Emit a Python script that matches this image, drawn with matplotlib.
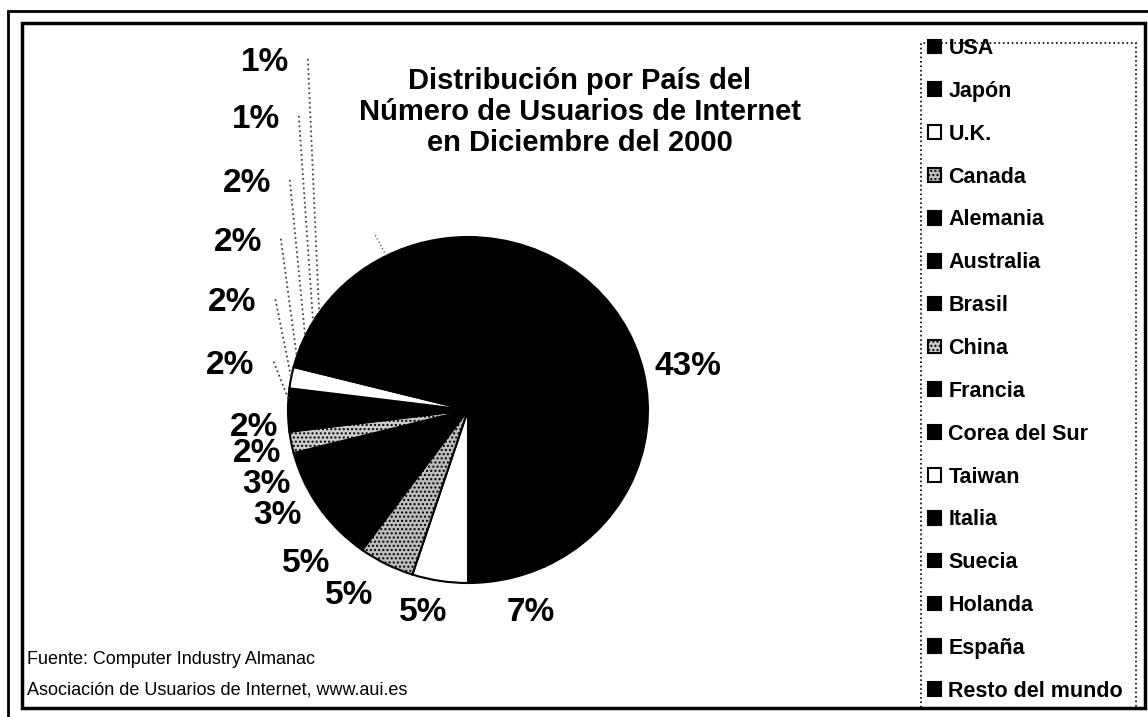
import numpy as np
import matplotlib
matplotlib.use("Agg")
import matplotlib.pyplot as plt
from matplotlib.patches import Rectangle

plt.rcParams['font.family'] = ['Liberation Sans', 'DejaVu Sans']
plt.rcParams['hatch.linewidth'] = 1.0

# data (Resto del mundo = remainder, its label is hidden)
countries = ['USA', 'Japón', 'U.K.', 'Canada', 'Alemania', 'Australia', 'Brasil',
             'China', 'Francia', 'Corea del Sur', 'Taiwan', 'Italia', 'Suecia',
             'Holanda', 'España', 'Resto del mundo']
shares = [43, 7, 5, 5, 5, 3, 3, 2, 2, 2, 2, 2, 2, 1, 1, 15]
show_label = [True] * 15 + [False]

# styles (greyscale scan)
fills = ['black', 'black', 'white', '#bdbdbd', 'black', 'black', 'black',
         '#cccccc', 'black', 'black', 'white', 'black', 'black',
         'black', 'black', 'black']
hatches = [None, None, None, '....', None, None, None, '....', None, None,
           None, None, None, None, None, None]

# label centres, pie data units (pie radius = 1)
label_pos = [(1.22, 0.25), (0.35, -1.17), (-0.25, -1.17), (-0.66, -1.07),
             (-0.90, -0.89), (-1.06, -0.61), (-1.12, -0.43), (-1.17, -0.25),
             (-1.19, -0.10), (-1.32, 0.26), (-1.31, 0.62), (-1.28, 0.97),
             (-1.23, 1.31), (-1.18, 1.68), (-1.13, 2.01), None]
leader = [False] * 9 + [True] * 6 + [False]

W, H = 1148, 717


def fx(x):
    return x / W


def fy(y):
    return 1 - y / H


fig = plt.figure(figsize=(W / 100, H / 100), dpi=100)
fig.patch.set_facecolor('white')

# double frame
fig.add_artist(Rectangle((fx(8), fy(740)), fx(1170 - 8), (740 - 11) / H,
                         transform=fig.transFigure, fill=False,
                         edgecolor='black', lw=2))
fig.add_artist(Rectangle((fx(22), fy(708)), fx(1145 - 22), (708 - 23) / H,
                         transform=fig.transFigure, fill=False,
                         edgecolor='black', lw=2.5))

# pie (scan is slightly squashed vertically, so axes box is not square)
ax = fig.add_axes([fx(288), fy(583), fx(360), 346 / H])
wedges, _ = ax.pie(shares, colors=fills, startangle=90, counterclock=False,
                   radius=1, wedgeprops=dict(edgecolor='black', linewidth=1.5))
for w, h in zip(wedges, hatches):
    if h:
        w.set_hatch(h)
ax.set_aspect('auto')
ax.set_xlim(-1, 1)
ax.set_ylim(-1, 1)
ax.axis('off')

for i, (v, pos) in enumerate(zip(shares, label_pos)):
    w = wedges[i]
    mid = np.deg2rad((w.theta1 + w.theta2) / 2)
    if leader[i]:
        ax.plot([pos[0] + 0.24, np.cos(mid)], [pos[1] + 0.02, np.sin(mid)],
                ls=':', color='#444444', lw=1.3, clip_on=False)
    if not show_label[i]:
        ax.plot([np.cos(mid), 1.15 * np.cos(mid)], [np.sin(mid), 1.15 * np.sin(mid)],
                ls=':', color='#666666', lw=1.0, clip_on=False)
        continue
    ax.text(pos[0], pos[1], f'{v}%', ha='center', va='center', fontsize=24,
            fontweight='bold', clip_on=False)

# title
fig.text(fx(580), fy(112), 'Distribución por País del\nNúmero de Usuarios de Internet\nen Diciembre del 2000',
         ha='center', va='center', fontsize=21, fontweight='bold', linespacing=1.15)

# source
fig.text(fx(27), fy(660), 'Fuente: Computer Industry Almanac', ha='left', va='center', fontsize=13)
fig.text(fx(27), fy(690), 'Asociación de Usuarios de Internet, www.aui.es', ha='left', va='center', fontsize=13)

# legend box (dotted) and entries
fig.add_artist(Rectangle((fx(921), fy(708)), fx(1136 - 921), (708 - 43) / H,
                         transform=fig.transFigure, fill=False,
                         edgecolor='black', lw=1.2, ls=':'))
fig.legend(wedges, countries, loc='upper left', bbox_to_anchor=(fx(928), fy(38)),
           frameon=False, prop=dict(weight='bold', size=15.5),
           handlelength=0.6, handleheight=0.6, handletextpad=0.35,
           labelspacing=1.015, borderaxespad=0, borderpad=0)

fig.savefig('out.png', dpi=100)
